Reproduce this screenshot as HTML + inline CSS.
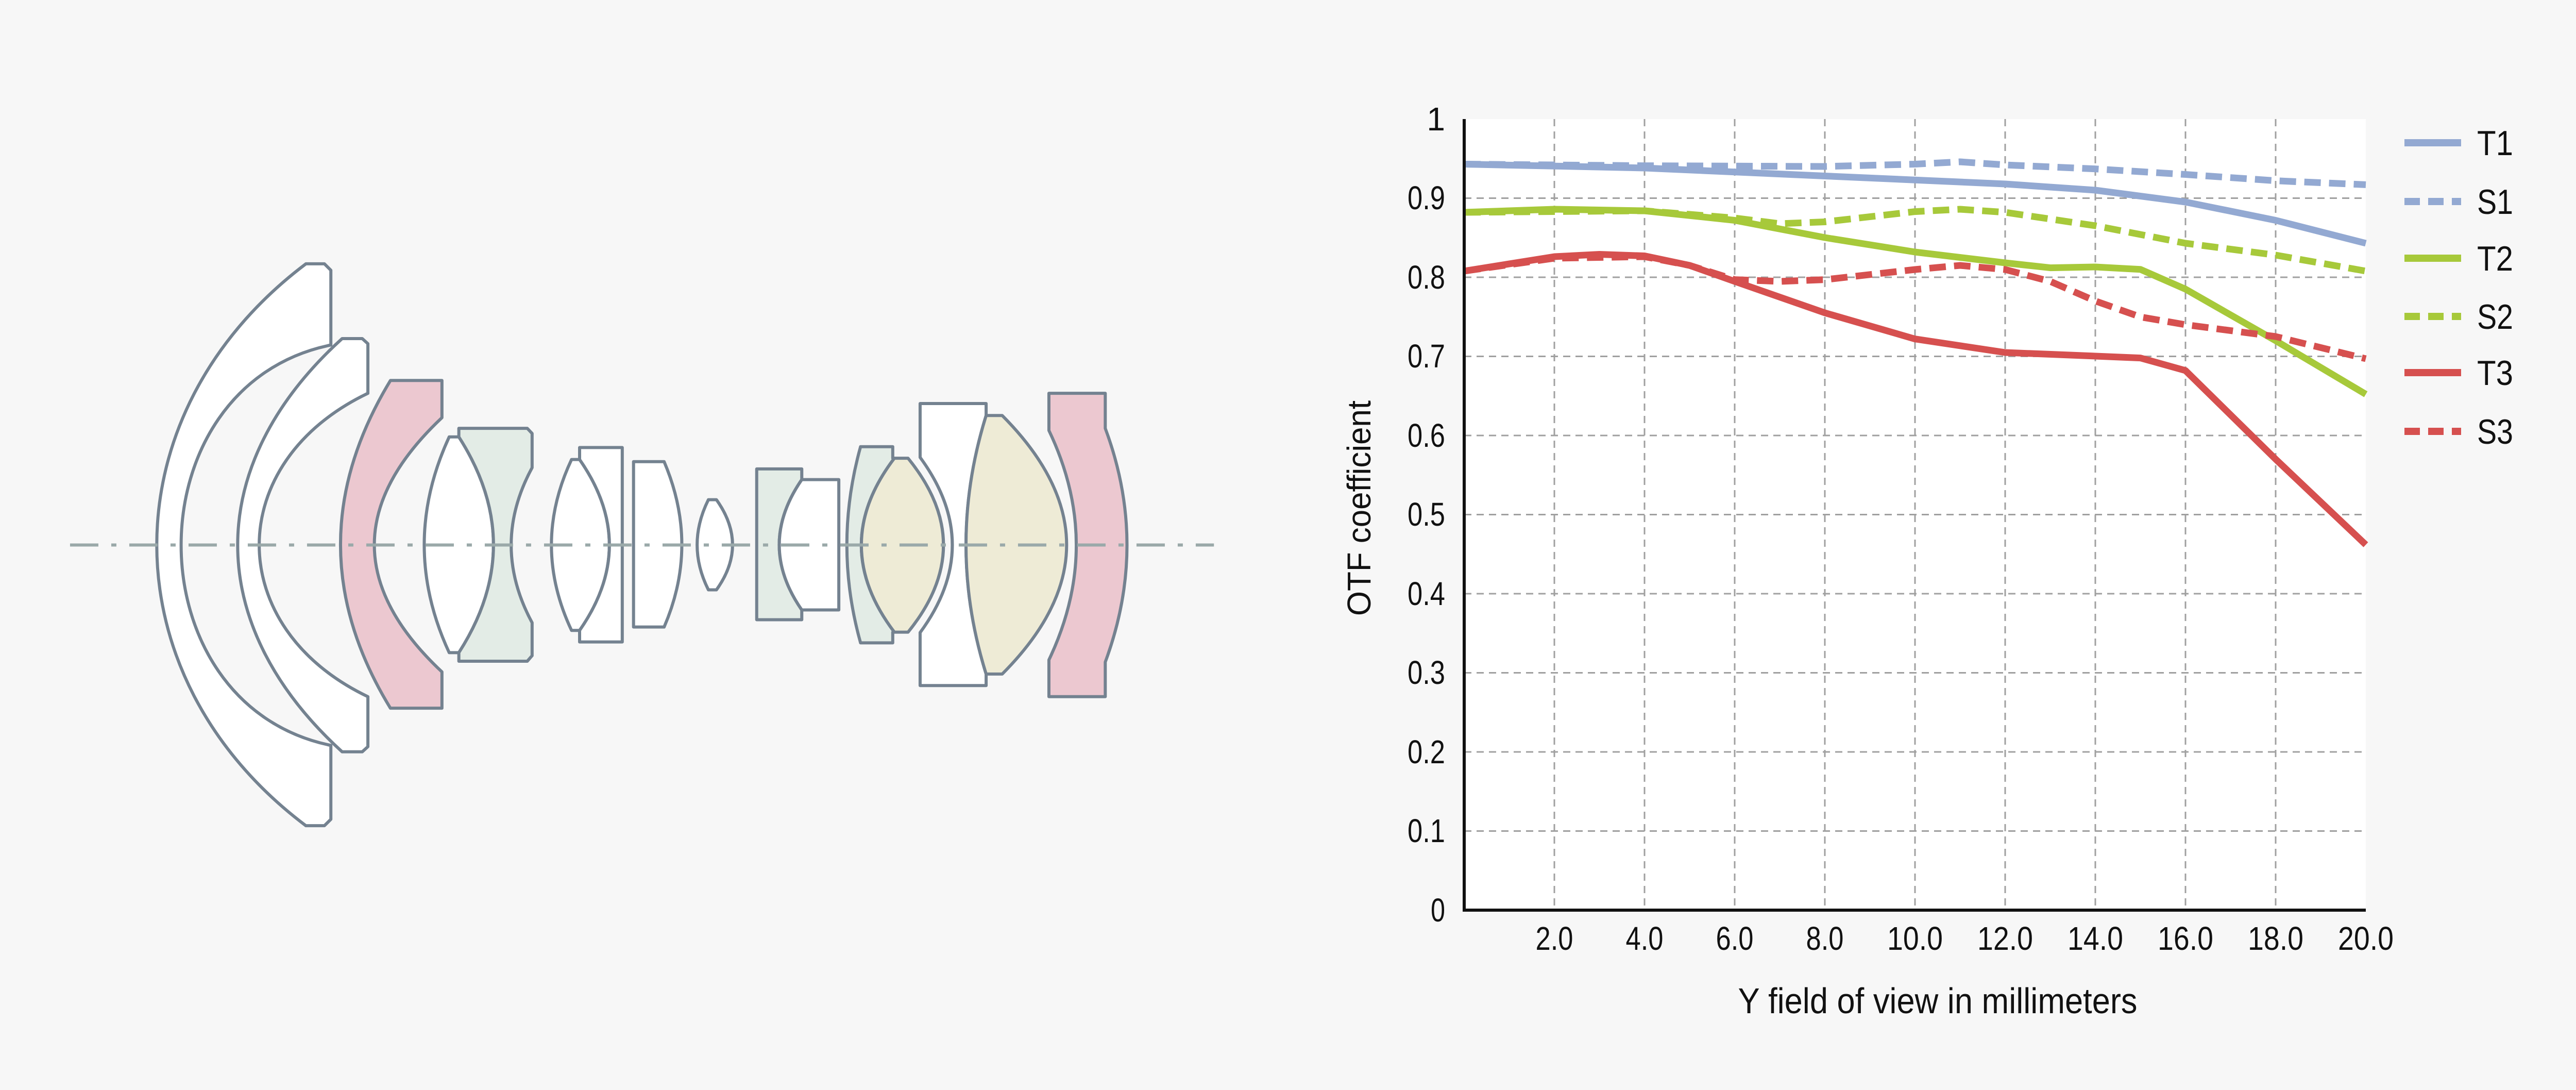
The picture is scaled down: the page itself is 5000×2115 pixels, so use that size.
<!DOCTYPE html>
<html><head><meta charset="utf-8"><style>
html,body{margin:0;padding:0;background:#f7f7f7;}
svg{position:absolute;left:0;top:0;}
text{font-family:"Liberation Sans Narrow","Liberation Sans",sans-serif;fill:#111;}
</style></head><body>
<svg width="2450" height="1300" viewBox="0 0 1568 1568" preserveAspectRatio="none" style="top:400px">
<g stroke="#748290" stroke-width="6" fill="#fff" stroke-linejoin="round">
<path vector-effect="non-scaling-stroke" d="M380,135 L403,135 L411,150 L411,325 C163,420 163,1166 411,1262 L411,1435 L403,1450 L380,1450 C133,1100 133,486 380,135Z"/>
<path vector-effect="non-scaling-stroke" d="M425,310 L450,310 L457,322 L457,438 C277,600 277,986 457,1148 L457,1265 L450,1277 L425,1277 C252,980 252,606 425,310Z"/>
<path vector-effect="non-scaling-stroke" fill="#ecc8d0" d="M485,408 L549,408 L549,495 Q381,793 549,1090 L549,1175 L485,1175 Q361,793 485,408Z"/>
<path vector-effect="non-scaling-stroke" d="M558,540 L570,540 Q656,793 570,1045 L558,1045 Q496,793 558,540Z"/>
<path vector-effect="non-scaling-stroke" fill="#e3ece6" d="M570,520 L655,520 L661,532 L661,612 Q609,793 661,975 L661,1052 L655,1065 L570,1065 L570,1045 Q656,793 570,540Z"/>
<path vector-effect="non-scaling-stroke" d="M710,593 L720,593 Q794,793 720,993 L710,993 Q660,793 710,593Z"/>
<path vector-effect="non-scaling-stroke" d="M720,565 L773,565 L773,1020 L720,1020 L720,993 Q794,793 720,593Z"/>
<path vector-effect="non-scaling-stroke" d="M787,598 L825,598 Q869,793 825,985 L787,985Z"/>
<path vector-effect="non-scaling-stroke" d="M880,687 L890,687 Q930,793 890,898 L880,898 Q852,793 880,687Z"/>
<path vector-effect="non-scaling-stroke" fill="#e3ece6" d="M940,615 L996,615 L996,640 Q940,793 996,945 L996,968 L940,968Z"/>
<path vector-effect="non-scaling-stroke" d="M996,640 L1042,640 L1042,945 L996,945 Q940,793 996,640Z"/>
<path vector-effect="non-scaling-stroke" fill="#e3ece6" d="M1069,563 L1109,563 L1109,590 L1111,590 Q1029,793 1111,997 L1109,997 L1109,1022 L1069,1022 Q1035,793 1069,563Z"/>
<path vector-effect="non-scaling-stroke" fill="#eeebd6" d="M1111,590 L1128,590 Q1216,793 1128,997 L1111,997 Q1029,793 1111,590Z"/>
<path vector-effect="non-scaling-stroke" d="M1143,462 L1225,462 L1225,490 Q1175,793 1225,1095 L1225,1122 L1143,1122 L1143,998 Q1223,793 1143,588Z"/>
<path vector-effect="non-scaling-stroke" fill="#eeebd6" d="M1225,490 L1245,490 Q1405,793 1245,1095 L1225,1095 Q1175,793 1225,490Z"/>
<path vector-effect="non-scaling-stroke" fill="#ecc8d0" d="M1303,438 L1373,438 L1373,520 Q1427,793 1373,1067 L1373,1148 L1303,1148 L1303,1062 Q1371,793 1303,525Z"/>
</g>
<line x1="87" y1="793" x2="1508" y2="793" stroke="#9aa9a9" stroke-width="6" vector-effect="non-scaling-stroke" stroke-dasharray="55 25 10 25"/>
</svg>

<svg width="5000" height="2115" viewBox="0 0 5000 2115">
<rect x="2842" y="231" width="1750" height="1535" fill="#fff"/>
<g stroke="#a0a0a0" stroke-width="3" stroke-dasharray="14 10">
<line x1="2842" x2="4592" y1="384.5" y2="384.5"/><line x1="2842" x2="4592" y1="538" y2="538"/>
<line x1="2842" x2="4592" y1="691.5" y2="691.5"/><line x1="2842" x2="4592" y1="845" y2="845"/>
<line x1="2842" x2="4592" y1="998.5" y2="998.5"/><line x1="2842" x2="4592" y1="1152" y2="1152"/>
<line x1="2842" x2="4592" y1="1305.5" y2="1305.5"/><line x1="2842" x2="4592" y1="1459" y2="1459"/>
<line x1="2842" x2="4592" y1="1612.5" y2="1612.5"/>
<line y1="231" y2="1766" x1="3017" x2="3017"/><line y1="231" y2="1766" x1="3192" x2="3192"/>
<line y1="231" y2="1766" x1="3367" x2="3367"/><line y1="231" y2="1766" x1="3542" x2="3542"/>
<line y1="231" y2="1766" x1="3717" x2="3717"/><line y1="231" y2="1766" x1="3892" x2="3892"/>
<line y1="231" y2="1766" x1="4067" x2="4067"/><line y1="231" y2="1766" x1="4242" x2="4242"/>
<line y1="231" y2="1766" x1="4417" x2="4417"/>
</g>
<g fill="none" stroke-width="13" stroke-linejoin="round" stroke-linecap="butt">
<polyline stroke="#93a9d2" points="2842,318.5 3192,326 3542,341.5 3892,357 4067,369 4242,392 4417,427.5 4592,472"/>
<polyline stroke="#93a9d2" stroke-dasharray="32 16" points="2842,318.5 3192,321.6 3542,323 3717,318.5 3804.5,314 3892,320 4067,327.7 4242,338.5 4417,350.7 4592,358.4"/>
<polyline stroke="#a7c93a" points="2842,412 3017,406 3192,409 3367,427.5 3542,461 3717,489 3892,510 3979.5,519.6 4067,518 4154.5,522.7 4242,561 4417,661 4592,765"/>
<polyline stroke="#a7c93a" stroke-dasharray="32 16" points="2842,412 3192,409 3367,423 3454.5,434 3542,430.5 3717,410.6 3804.5,406 3892,412 4067,438 4242,472 4417,495 4592,526"/>
<polyline stroke="#d6504f" points="2842,526 3017,498 3104.5,493.5 3192,496.5 3279.5,515 3367,546 3542,607 3717,657.7 3892,684 4067,691 4154.5,694.6 4242,719 4417,891 4592,1057"/>
<polyline stroke="#d6504f" stroke-dasharray="32 16" points="2842,526 3017,501 3192,498 3279.5,515 3367,542.6 3454.5,546 3542,542.6 3717,523 3804.5,515 3892,523 3979.5,546 4067,584 4154.5,615 4242,630 4417,653 4592,696"/>
</g>
<polyline points="2842,231 2842,1766 4592,1766" fill="none" stroke="#111" stroke-width="6"/>
<g font-size="64" text-anchor="end">
<text x="2805" y="253">1</text>
<text x="2805" y="406" textLength="73" lengthAdjust="spacingAndGlyphs">0.9</text>
<text x="2805" y="560" textLength="73" lengthAdjust="spacingAndGlyphs">0.8</text>
<text x="2805" y="713" textLength="73" lengthAdjust="spacingAndGlyphs">0.7</text>
<text x="2805" y="867" textLength="73" lengthAdjust="spacingAndGlyphs">0.6</text>
<text x="2805" y="1020" textLength="73" lengthAdjust="spacingAndGlyphs">0.5</text>
<text x="2805" y="1174" textLength="73" lengthAdjust="spacingAndGlyphs">0.4</text>
<text x="2805" y="1327" textLength="73" lengthAdjust="spacingAndGlyphs">0.3</text>
<text x="2805" y="1481" textLength="73" lengthAdjust="spacingAndGlyphs">0.2</text>
<text x="2805" y="1634" textLength="73" lengthAdjust="spacingAndGlyphs">0.1</text>
<text x="2805" y="1788" textLength="28" lengthAdjust="spacingAndGlyphs">0</text>
</g>
<g font-size="64" text-anchor="middle">
<text x="3017" y="1843" textLength="73" lengthAdjust="spacingAndGlyphs">2.0</text>
<text x="3192" y="1843" textLength="73" lengthAdjust="spacingAndGlyphs">4.0</text>
<text x="3367" y="1843" textLength="73" lengthAdjust="spacingAndGlyphs">6.0</text>
<text x="3542" y="1843" textLength="73" lengthAdjust="spacingAndGlyphs">8.0</text>
<text x="3717" y="1843" textLength="108" lengthAdjust="spacingAndGlyphs">10.0</text>
<text x="3892" y="1843" textLength="108" lengthAdjust="spacingAndGlyphs">12.0</text>
<text x="4067" y="1843" textLength="108" lengthAdjust="spacingAndGlyphs">14.0</text>
<text x="4242" y="1843" textLength="108" lengthAdjust="spacingAndGlyphs">16.0</text>
<text x="4417" y="1843" textLength="108" lengthAdjust="spacingAndGlyphs">18.0</text>
<text x="4592" y="1843" textLength="108" lengthAdjust="spacingAndGlyphs">20.0</text>
</g>
<text x="3761" y="1966" font-size="70" text-anchor="middle" textLength="775" lengthAdjust="spacingAndGlyphs">Y field of view in millimeters</text>
<text transform="translate(2660,986) rotate(-90)" font-size="64" text-anchor="middle" textLength="418" lengthAdjust="spacingAndGlyphs">OTF coefficient</text>
<g stroke-width="14">
<line x1="4667" x2="4777" y1="277" y2="277" stroke="#93a9d2"/>
<line x1="4667" x2="4777" y1="391" y2="391" stroke="#93a9d2" stroke-dasharray="30 16"/>
<line x1="4667" x2="4777" y1="501" y2="501" stroke="#a7c93a"/>
<line x1="4667" x2="4777" y1="614" y2="614" stroke="#a7c93a" stroke-dasharray="30 16"/>
<line x1="4667" x2="4777" y1="723" y2="723" stroke="#d6504f"/>
<line x1="4667" x2="4777" y1="837" y2="837" stroke="#d6504f" stroke-dasharray="30 16"/>
</g>
<g font-size="68">
<text x="4808" y="301" textLength="70" lengthAdjust="spacingAndGlyphs">T1</text>
<text x="4808" y="415" textLength="70" lengthAdjust="spacingAndGlyphs">S1</text>
<text x="4808" y="525" textLength="70" lengthAdjust="spacingAndGlyphs">T2</text>
<text x="4808" y="638" textLength="70" lengthAdjust="spacingAndGlyphs">S2</text>
<text x="4808" y="747" textLength="70" lengthAdjust="spacingAndGlyphs">T3</text>
<text x="4808" y="861" textLength="70" lengthAdjust="spacingAndGlyphs">S3</text>
</g>
</svg>
</body></html>
